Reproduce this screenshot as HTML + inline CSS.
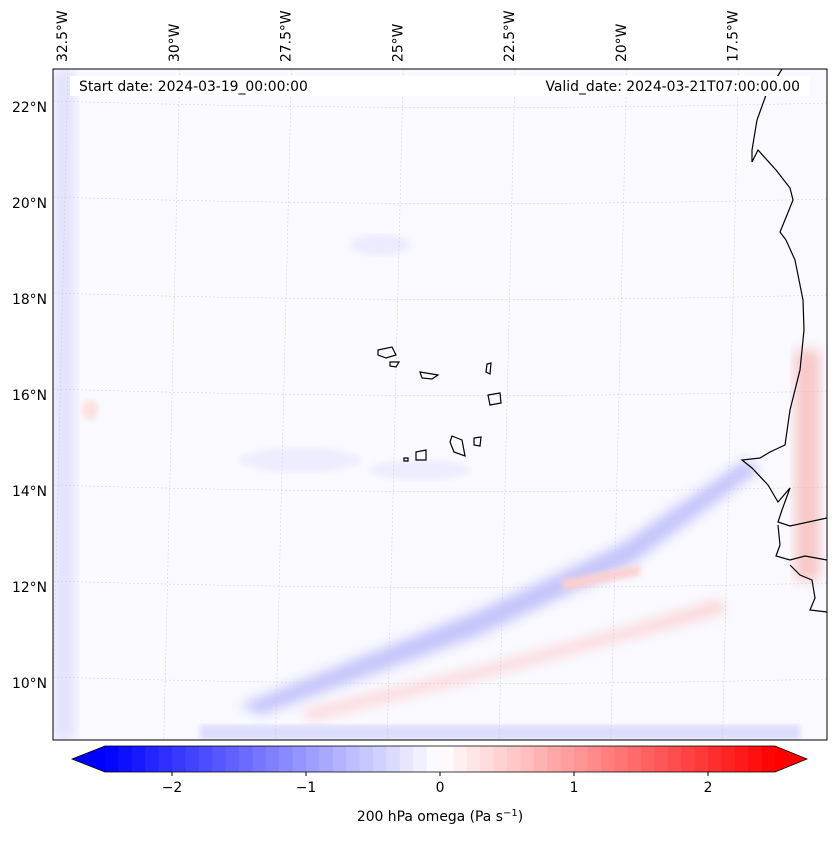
<!DOCTYPE html>
<html><head><meta charset="utf-8"><style>
body{margin:0;background:#fff;font-family:"Liberation Sans","DejaVu Sans",sans-serif}
svg text{font-family:"DejaVu Sans","Liberation Sans",sans-serif;font-size:13.9px;fill:#000}
</style></head><body>
<svg id="c" width="837" height="839">
<defs>
<filter id="bl" x="-20%" y="-50%" width="140%" height="200%"><feGaussianBlur stdDeviation="6"/></filter>
<filter id="bl2"><feGaussianBlur stdDeviation="3"/></filter>
<clipPath id="mc"><rect x="53" y="69" width="774" height="671"/></clipPath>
</defs>
<g id="map" clip-path="url(#mc)">
<rect x="53" y="69" width="774" height="671" fill="#f9f9ff"/>
<g>
<rect x="53" y="69" width="22" height="671" fill="#e2e2ff" filter="url(#bl)"/>
<path d="M240,705 L480,610 L620,545 L745,460 L760,470 L630,565 L480,635 L260,715 Z" fill="#c4c4fb" filter="url(#bl)"/>
<path d="M300,712 L480,668 L620,630 L720,600 L725,612 L600,645 L470,680 L310,720 Z" fill="#fcd2d2" filter="url(#bl)"/>
<path d="M560,580 L640,565 L640,575 L565,590 Z" fill="#fbd0d0" filter="url(#bl2)"/>
<rect x="795" y="350" width="25" height="230" fill="#f8c8c8" filter="url(#bl)"/>
<rect x="200" y="725" width="600" height="15" fill="#dcdcfc" filter="url(#bl2)"/>
<ellipse cx="380" cy="245" rx="30" ry="10" fill="#ebebff" filter="url(#bl2)"/>
<ellipse cx="300" cy="460" rx="60" ry="12" fill="#ededff" filter="url(#bl2)"/>
<ellipse cx="420" cy="470" rx="50" ry="10" fill="#ededff" filter="url(#bl2)"/>
<ellipse cx="90" cy="410" rx="8" ry="10" fill="#fce0e0" filter="url(#bl2)"/>
</g>
<g id="grid" stroke="#ccc" stroke-width="0.5" stroke-dasharray="2,2" fill="none"></g>
<path fill="none" stroke="#000" stroke-width="1.2" d="M782,69 L766,95 L757,120 L752,150 L752,162 L758,150 L776,170 L790,188 L793,200 L787,215 L780,232 L786,240 L795,260 L803,300 L804,330 L800,370 L790,410 L785,445 L770,452 L760,458 L742,460 L752,468 L768,485 L778,502 L790,488 L782,510 L778,522 L790,526 L827,518 M778,525 L780,545 L776,556 L790,560 L805,556 L827,560 M790,565 L800,575 L812,580 L815,598 L810,610 L827,612"/>
<g fill="none" stroke="#000" stroke-width="1.2">
<path d="M378,350 L392,347 L396,355 L386,358 L378,355 Z"/><path d="M390,362 L399,362 L396,367 L390,366Z"/><path d="M420,372 L438,375 L432,379 L422,378Z"/>
<path d="M487,364 L491,363 L490,374 L486,372Z"/><path d="M488,395 L500,393 L501,403 L490,405Z"/>
<path d="M452,436 L462,440 L465,456 L454,452 L450,442Z"/><path d="M474,438 L481,437 L480,446 L474,445Z"/>
<path d="M416,452 L426,450 L426,460 L416,460Z"/><path d="M404,458 L408,458 L408,461 L404,461Z"/>
</g>
<rect x="70" y="76" width="740" height="20" fill="#fff"/>
<text x="79" y="91">Start date: 2024-03-19_00:00:00</text>
<text x="800" y="91" text-anchor="end">Valid_date: 2024-03-21T07:00:00.00</text>
</g>
<rect x="53" y="69" width="774" height="671" fill="none" stroke="#000" stroke-width="1"/>
<g id="lonlab"></g><g id="latlab"></g>
<g id="cbar"></g>
<text x="440" y="821" text-anchor="middle">200 hPa omega (Pa s<tspan dy="-5" font-size="10">−1</tspan><tspan dy="5">)</tspan></text>
</svg>
<script>
const lonLabels=["32.5°W","30°W","27.5°W","25°W","22.5°W","20°W","17.5°W"];
const lonValues=[-32.5,-30,-27.5,-25,-22.5,-20,-17.5];
const latLabels=["22°N","20°N","18°N","16°N","14°N","12°N","10°N"];
const latValues=[22,20,18,16,14,12,10];
const cbTicks=[-2,-1,0,1,2];
const cbTickLabels=["−2","−1","0","1","2"];
const cbMin=-2.5, cbMax=2.5, cbStep=0.1;
const NS="http://www.w3.org/2000/svg";
const lonX=v=>62+(v+32.5)*44.7;
const latY=v=>107+(22-v)*48;
const cbX=v=>440+v*134;
function mk(t,a,p){const e=document.createElementNS(NS,t);for(const k in a)e.setAttribute(k,a[k]);p.appendChild(e);return e;}
const grid=document.getElementById('grid');
lonValues.forEach((v,i)=>{const x=lonX(v);
 const l=mk('path',{d:`M${x+6},69 L${x-10},740`},grid);
 
 
 const t=mk('text',{transform:`translate(${x+5},62) rotate(-90)`},document.getElementById('lonlab'));
 t.textContent=lonLabels[i];
 
 });
latValues.forEach((v,i)=>{const y=latY(v);
 const l=mk('path',{d:`M53,${y-6} Q440,${y+6} 827,${y-4}`},grid);
 
 
 const t=mk('text',{x:47,y:y+5,'text-anchor':'end'},document.getElementById('latlab'));
 t.textContent=latLabels[i];
 
 });
const cb=document.getElementById('cbar');
function col(v){const f=Math.min(1,Math.abs(v)/2.5);const c=Math.round(255*(1-f));return v<0?`rgb(${c},${c},255)`:`rgb(255,${c},${c})`;}
for(let v=cbMin;v<cbMax-1e-9;v+=cbStep){const r=mk('rect',{x:cbX(v),y:746,width:cbX(v+cbStep)-cbX(v)+0.5,height:26,fill:col(v+cbStep/2)},cb);
 
 }
const tl=mk('path',{d:`M${cbX(cbMin)},746 L72,759 L${cbX(cbMin)},772Z`,fill:'#0000ff'},cb);


const tr=mk('path',{d:`M${cbX(cbMax)},746 L807,759 L${cbX(cbMax)},772Z`,fill:'#ff0000'},cb);


mk('path',{d:`M${cbX(cbMin)},746 L${cbX(cbMax)},746 L807,759 L${cbX(cbMax)},772 L${cbX(cbMin)},772 L72,759Z`,fill:'none',stroke:'#000','stroke-width':0.8},cb);
cbTicks.forEach((v,i)=>{mk('line',{x1:cbX(v),x2:cbX(v),y1:772,y2:776,stroke:'#000'},cb);
 const t=mk('text',{x:cbX(v),y:792,'text-anchor':'middle'},cb);t.textContent=cbTickLabels[i];
 
 });
</script>
</body></html>
